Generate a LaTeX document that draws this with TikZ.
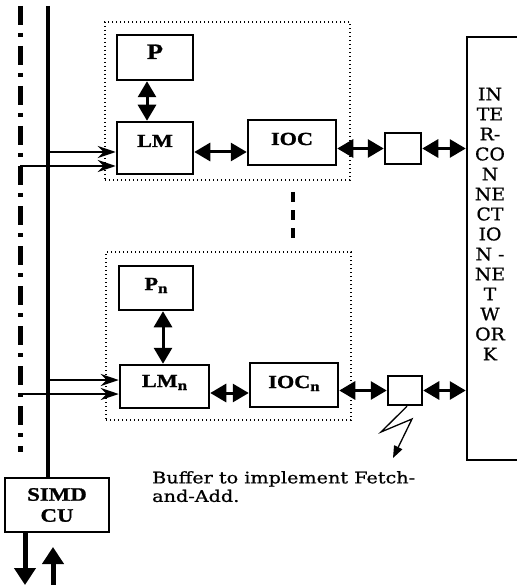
\documentclass[tikz,border=0pt]{standalone}
\usepackage{fontspec}
\setmainfont{Liberation Serif}
\newfontfamily\wideserif[FakeStretch=1.2,FakeBold=1.2]{Liberation Serif}
\newfontfamily\capserif[FakeStretch=1.2,FakeBold=0.8]{DejaVu Serif}
\newfontfamily\netserif[FakeStretch=1.08,FakeBold=0.8]{DejaVu Serif}
\usetikzlibrary{arrows.meta}
\newcommand\sbn{\raisebox{-3pt}{\fontsize{14}{14}\selectfont n}}
\begin{document}
\begin{tikzpicture}[x=1pt,y=-1pt,
  box/.style={draw, line width=2.5pt, inner sep=0pt, font=\wideserif\fontsize{18.5}{18.5}\selectfont\bfseries},
  dotbox/.style={draw, line width=1.4pt, dash pattern=on 1.4pt off 2.6pt, inner sep=0pt},
  dbl/.style={line width=3pt, {Triangle[length=16pt,width=18pt]}-{Triangle[length=16pt,width=18pt]}},
  inarr/.style={line width=1.8pt, -{Stealth[length=18pt,width=12pt,inset=6pt]}},
  bigarr/.style={line width=5pt, -{Triangle[length=17pt,width=21pt]}},
  bus/.style={line width=4pt},
  ctrl/.style={line width=5pt, dash pattern=on 19pt off 8pt on 4pt off 9pt},
  sepdash/.style={line width=4pt, dash pattern=on 10pt off 8pt},
  pointer/.style={line width=1.3pt, -{Triangle[length=12pt,width=9pt]}}
]
\useasboundingbox (0,0) rectangle (516,585);

% module containers
\node[dotbox, minimum width=245pt, minimum height=158pt] (M1) at (227.5,101) {};
\node[dotbox, minimum width=245pt, minimum height=168pt] (M2) at (228.5,336) {};

% top module
\node[box, minimum width=76pt, minimum height=45pt, text height=24pt, text depth=21pt, font=\wideserif\fontsize{22}{22}\selectfont\bfseries] (P) at (155,57.5) {P};
\node[box, minimum width=76pt, minimum height=52pt, text height=25pt, text depth=27pt] (LM) at (155,148) {LM};
\node[box, minimum width=88pt, minimum height=45pt, text height=25pt, text depth=20pt] (IOC) at (292,142.5) {IOC};
\node[box, minimum width=36pt, minimum height=31pt] (B1) at (403,148.5) {};

% bottom module
\node[box, minimum width=74pt, minimum height=44pt, text height=24pt, text depth=20pt] (Pn) at (156,288) {P\sbn};
\node[box, minimum width=89pt, minimum height=43pt, text height=22pt, text depth=21pt] (LMn) at (164.5,386.5) {LM\sbn};
\node[box, minimum width=88pt, minimum height=44pt, text height=25pt, text depth=19pt] (IOCn) at (294,385) {IOC\sbn};
\node[box, minimum width=34pt, minimum height=29pt] (B2) at (405,390.5) {};

% interconnection network
\node[draw, line width=2.5pt, inner sep=0pt, minimum width=100pt, minimum height=423pt] (NET) at (517,248.5) {};
\node[font=\netserif\fontsize{17.5}{20}\selectfont, align=center, inner sep=0pt] (NL) at (490,224)
  {IN\\TE\\R-\\CO\\N\\NE\\CT\\IO\\N -\\NE\\T\\W\\OR\\K};

% SIMD control unit
\node[box, minimum width=104pt, minimum height=54pt, align=center, font=\wideserif\fontsize{19}{21}\selectfont\bfseries] (SIMD) at (57,505) {SIMD\\CU};

% buses
\coordinate (bustop) at (48,6);
\draw[bus] (bustop) -- (bustop |- SIMD.north);
\coordinate (ddtop) at (20,6);
\coordinate (ddbot) at (20,452);
\draw[ctrl] (ddtop) -- (ddbot);

% inputs to local memories
\coordinate (a1) at (48,152);
\coordinate (a2) at (20,166);
\coordinate (a3) at (48,380);
\coordinate (a4) at (20,394);
\draw[inarr] (a1) -- (a1 -| LM.west);
\draw[inarr] (a2) -- (a2 -| LM.west);
\draw[inarr] (a3) -- (a3 -| LMn.west);
\draw[inarr] (a4) -- (a4 -| LMn.west);

% double arrows, top module
\coordinate (x1) at (147,0);
\coordinate (y1) at (0,152);
\draw[dbl] (P.south -| x1) -- (LM.north -| x1);
\draw[dbl] (LM.east |- y1) -- (IOC.west |- y1);
\draw[dbl] (IOC.east |- B1.center) -- (B1.west);
\draw[dbl] (B1.east) -- (B1.east -| NET.west);

% double arrows, bottom module
\coordinate (x2) at (163,0);
\coordinate (y2) at (0,393);
\draw[dbl] (Pn.south -| x2) -- (LMn.north -| x2);
\draw[dbl] (LMn.east |- y2) -- (IOCn.west |- y2);
\draw[dbl] (IOCn.east |- B2.center) -- (B2.west);
\draw[dbl] (B2.east) -- (B2.east -| NET.west);

% separator between modules
\coordinate (d1) at (293,192);
\coordinate (d2) at (293,238);
\draw[sepdash] (d1) -- (d2);

% SIMD CU external arrows
\coordinate (s1) at (25,585);
\coordinate (s2) at (53,585);
\coordinate (s2top) at (53,547);
\draw[bigarr] (s1 |- SIMD.south) -- (s1);
\draw[bigarr] (s2) -- (s2top);

% caption and pointer
\node[font=\capserif\fontsize{16}{18.5}\selectfont, align=left, anchor=north west, inner sep=0pt] (cap) at (152,471)
  {Buffer to implement Fetch-\\and-Add.};
\coordinate (z1) at (381,432);
\coordinate (z2) at (412,419);
\coordinate (z3) at (393,458);
\draw[pointer] ([xshift=2pt]B2.south) -- (z1) -- (z2) -- (z3);
\end{tikzpicture}
\end{document}
